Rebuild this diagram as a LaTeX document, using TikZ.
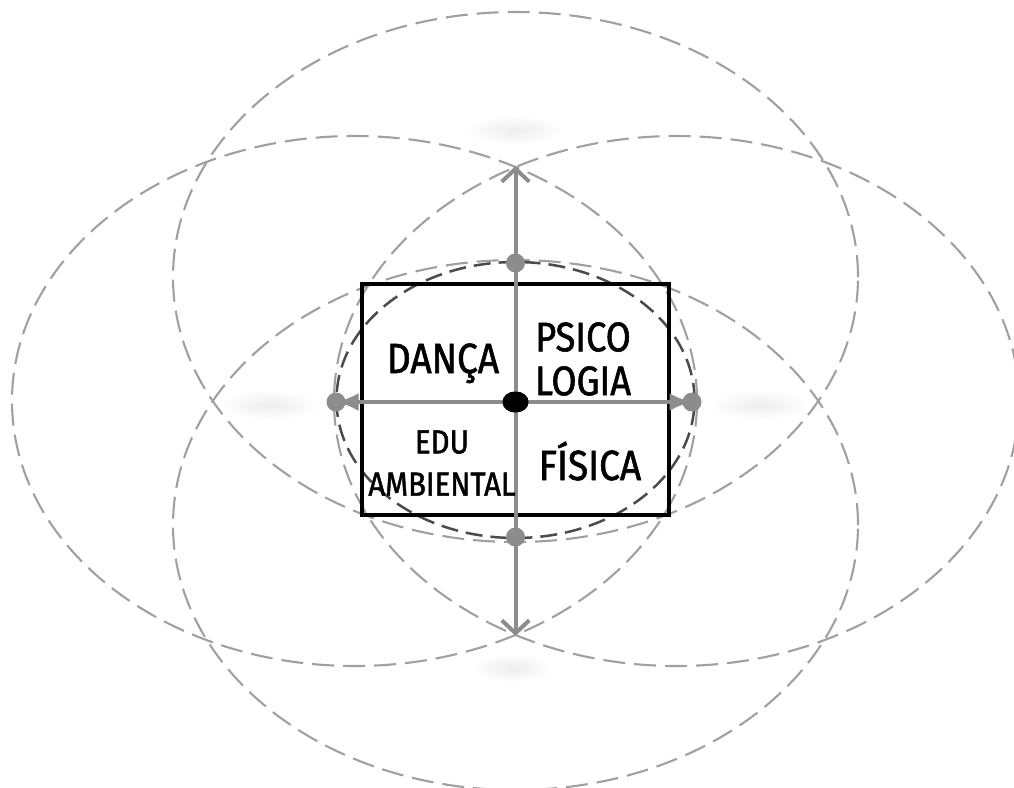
\documentclass[tikz,border=0pt]{standalone}
\usepackage{fontspec}
\setmainfont{Fira Sans}[FakeStretch=0.88, FakeBold=1.4]
\usetikzlibrary{arrows.meta,positioning,shapes.geometric}
\definecolor{ringgray}{RGB}{160,160,160}
\definecolor{innergray}{RGB}{75,75,75}
\definecolor{axisgray}{RGB}{140,140,140}

\begin{document}
\begin{tikzpicture}[x=0.2mm,y=-0.2mm,
  ring/.style={draw=ringgray, line width=0.42mm, dash pattern=on 4.4mm off 1.8mm},
  innerring/.style={draw=innergray, line width=0.5mm, dash pattern=on 3.4mm off 1.6mm},
  axis/.style={draw=axisgray, line width=0.8mm},
  tip/.style={-{Straight Barb[length=2.6mm,width=5.5mm]}},
  sidetip/.style={-{Latex[length=4.5mm,width=3.6mm]}},
  dot/.style={circle, fill=axisgray, inner sep=0pt, minimum size=3.8mm},
  area/.style={align=center, inner sep=0pt, text=black},
  blob/.style={inner color=black!7, outer color=white}
]
  \useasboundingbox (0,0) rectangle (1014,787);

  % faint patches where the outer words were
  \shade[blob] (515,130) ellipse [x radius=10mm, y radius=3mm];
  \shade[blob] (270,405) ellipse [x radius=10mm, y radius=3mm];
  \shade[blob] (760,405) ellipse [x radius=10mm, y radius=3mm];
  \shade[blob] (512,668) ellipse [x radius=8mm, y radius=3mm];

  % four outer rings and the inner one
  \draw[ring] (515.5,277) ellipse [x radius=68.5mm, y radius=53mm];
  \draw[ring] (515.5,525) ellipse [x radius=68.5mm, y radius=53mm];
  \draw[ring] (354.5,401) ellipse [x radius=68.5mm, y radius=53mm];
  \draw[ring] (676.5,401) ellipse [x radius=68.5mm, y radius=53mm];
  \draw[innerring] (515.5,400) ellipse [x radius=35.8mm, y radius=27.6mm];

  % quadrant box
  \node[draw, line width=0.7mm, minimum width=61.4mm, minimum height=46.2mm] (box) at (515.5,399.5) {};

  % axes
  \coordinate (ttip) at (515.5,166);
  \coordinate (btip) at (515.5,636);
  \node[dot] (dtop) at (515.5,263) {};
  \node[dot] (dbot) at (515.5,537) {};
  \node[dot] (dleft) at (336,402) {};
  \node[dot] (dright) at (692,402) {};
  \node[ellipse, fill=black, inner sep=0pt, minimum width=5.2mm, minimum height=4.2mm] (ctr) at (515.5,402) {};
  \draw[axis, tip] (ctr.center) -- (ttip);
  \draw[axis, tip] (ctr.center) -- (btip);
  \draw[axis, sidetip] (ctr.center) -- (dleft.center);
  \draw[axis, sidetip] (ctr.center) -- (dright.center);
  \node[ellipse, fill=black, inner sep=0pt, minimum width=5.2mm, minimum height=4.2mm] at (ctr) {};

  % quadrant labels
  \node[area, font=\fontsize{24}{28}\selectfont, anchor=base] (danca) at (443,373) {DANÇA};
  \node[area, font=\fontsize{23.5}{25}\selectfont] (psico) at (583,359) {PSICO\\LOGIA};
  \node[area, font=\fontsize{19}{24}\selectfont] (edu) at (442,463) {EDU\\AMBIENTAL};
  \node[area, font=\fontsize{24}{28}\selectfont, anchor=base] (fisica) at (590,480) {FÍSICA};
\end{tikzpicture}
\end{document}
